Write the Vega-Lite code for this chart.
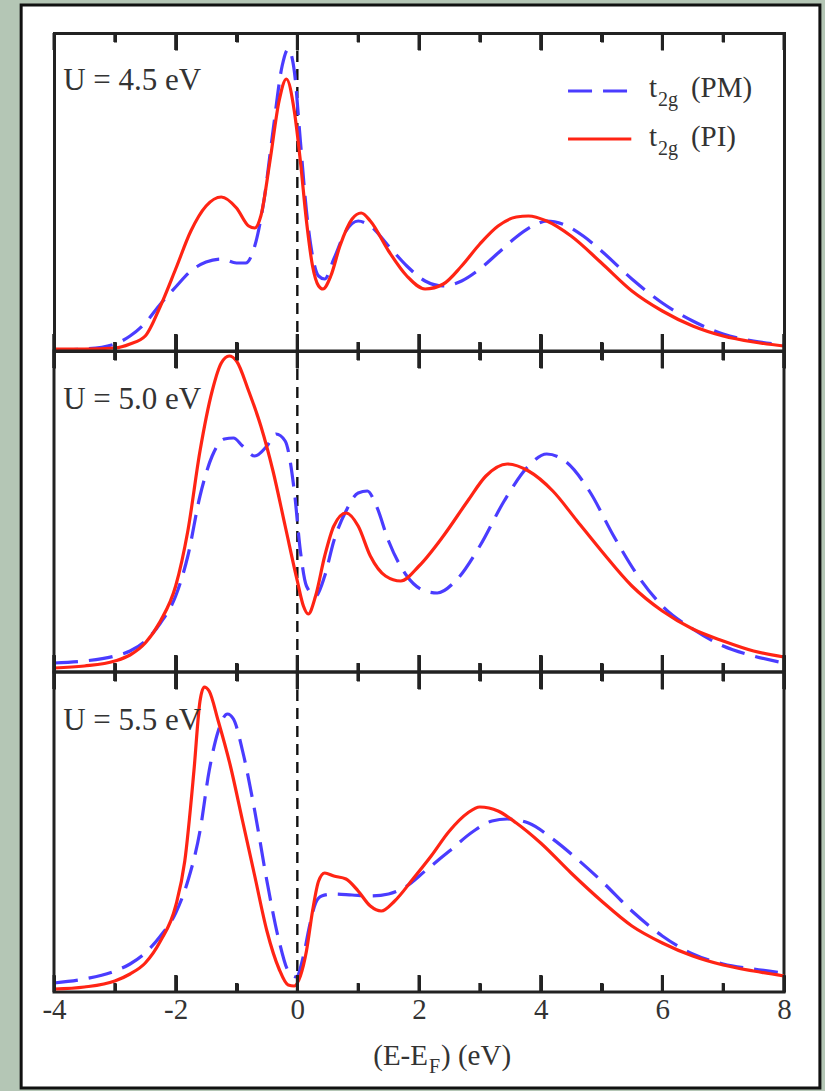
{
 "$schema": "https://vega.github.io/schema/vega-lite/v6.json",
 "background": "#b4c6b5",
 "padding": {"left": 18, "top": 2, "right": 4, "bottom": 0},
 "spacing": 0,
 "bounds": "flush",
 "config": {"view": {"stroke": "#222", "strokeWidth": 3}, "font": "Liberation Serif", "tick": {"thickness": 3}},
 "datasets": {
  "tk": [{"E":-4,"k":"M"},{"E":-3,"k":"m"},{"E":-2,"k":"M"},{"E":-1,"k":"m"},{"E":0,"k":"M"},{"E":1,"k":"m"},{"E":2,"k":"M"},{"E":3,"k":"m"},{"E":4,"k":"M"},{"E":5,"k":"m"},{"E":6,"k":"M"},{"E":7,"k":"m"},{"E":8,"k":"M"}],
  "dos": [
   {"U":"4.5","s":"PM","E":-4,"D":0.01},{"U":"4.5","s":"PM","E":-3.5,"D":0.02},{"U":"4.5","s":"PM","E":-3,"D":0.07},{"U":"4.5","s":"PM","E":-2.75,"D":0.15},{"U":"4.5","s":"PM","E":-2.5,"D":0.28},{"U":"4.5","s":"PM","E":-2.25,"D":0.47},{"U":"4.5","s":"PM","E":-2,"D":0.64},{"U":"4.5","s":"PM","E":-1.75,"D":0.8},{"U":"4.5","s":"PM","E":-1.5,"D":0.89},{"U":"4.5","s":"PM","E":-1.25,"D":0.92},{"U":"4.5","s":"PM","E":-1,"D":0.88},{"U":"4.5","s":"PM","E":-0.85,"D":0.88},{"U":"4.5","s":"PM","E":-0.7,"D":1.05},{"U":"4.5","s":"PM","E":-0.55,"D":1.5},{"U":"4.5","s":"PM","E":-0.4,"D":2.2},{"U":"4.5","s":"PM","E":-0.25,"D":2.85},{"U":"4.5","s":"PM","E":-0.15,"D":3.02},{"U":"4.5","s":"PM","E":-0.05,"D":2.8},{"U":"4.5","s":"PM","E":0.05,"D":2.1},{"U":"4.5","s":"PM","E":0.15,"D":1.4},{"U":"4.5","s":"PM","E":0.25,"D":0.95},{"U":"4.5","s":"PM","E":0.35,"D":0.75},{"U":"4.5","s":"PM","E":0.45,"D":0.72},{"U":"4.5","s":"PM","E":0.6,"D":0.92},{"U":"4.5","s":"PM","E":0.8,"D":1.2},{"U":"4.5","s":"PM","E":1,"D":1.3},{"U":"4.5","s":"PM","E":1.2,"D":1.25},{"U":"4.5","s":"PM","E":1.5,"D":1.05},{"U":"4.5","s":"PM","E":1.8,"D":0.85},{"U":"4.5","s":"PM","E":2.1,"D":0.7},{"U":"4.5","s":"PM","E":2.4,"D":0.65},{"U":"4.5","s":"PM","E":2.7,"D":0.7},{"U":"4.5","s":"PM","E":3,"D":0.82},{"U":"4.5","s":"PM","E":3.3,"D":0.98},{"U":"4.5","s":"PM","E":3.6,"D":1.14},{"U":"4.5","s":"PM","E":3.9,"D":1.26},{"U":"4.5","s":"PM","E":4.1,"D":1.3},{"U":"4.5","s":"PM","E":4.4,"D":1.26},{"U":"4.5","s":"PM","E":4.7,"D":1.15},{"U":"4.5","s":"PM","E":5,"D":1.0},{"U":"4.5","s":"PM","E":5.5,"D":0.72},{"U":"4.5","s":"PM","E":6,"D":0.48},{"U":"4.5","s":"PM","E":6.5,"D":0.3},{"U":"4.5","s":"PM","E":7,"D":0.17},{"U":"4.5","s":"PM","E":7.5,"D":0.1},{"U":"4.5","s":"PM","E":8,"D":0.06},

   {"U":"4.5","s":"PI","E":-4,"D":0.02},{"U":"4.5","s":"PI","E":-3.5,"D":0.02},{"U":"4.5","s":"PI","E":-3,"D":0.03},{"U":"4.5","s":"PI","E":-2.75,"D":0.07},{"U":"4.5","s":"PI","E":-2.5,"D":0.15},{"U":"4.5","s":"PI","E":-2.25,"D":0.45},{"U":"4.5","s":"PI","E":-2,"D":0.82},{"U":"4.5","s":"PI","E":-1.75,"D":1.2},{"U":"4.5","s":"PI","E":-1.5,"D":1.45},{"U":"4.5","s":"PI","E":-1.25,"D":1.54},{"U":"4.5","s":"PI","E":-1,"D":1.43},{"U":"4.5","s":"PI","E":-0.8,"D":1.25},{"U":"4.5","s":"PI","E":-0.7,"D":1.23},{"U":"4.5","s":"PI","E":-0.6,"D":1.35},{"U":"4.5","s":"PI","E":-0.45,"D":1.9},{"U":"4.5","s":"PI","E":-0.3,"D":2.5},{"U":"4.5","s":"PI","E":-0.18,"D":2.72},{"U":"4.5","s":"PI","E":-0.05,"D":2.4},{"U":"4.5","s":"PI","E":0.05,"D":1.9},{"U":"4.5","s":"PI","E":0.15,"D":1.3},{"U":"4.5","s":"PI","E":0.25,"D":0.85},{"U":"4.5","s":"PI","E":0.35,"D":0.65},{"U":"4.5","s":"PI","E":0.42,"D":0.62},{"U":"4.5","s":"PI","E":0.55,"D":0.75},{"U":"4.5","s":"PI","E":0.7,"D":1.05},{"U":"4.5","s":"PI","E":0.9,"D":1.32},{"U":"4.5","s":"PI","E":1.05,"D":1.38},{"U":"4.5","s":"PI","E":1.2,"D":1.3},{"U":"4.5","s":"PI","E":1.5,"D":1.0},{"U":"4.5","s":"PI","E":1.8,"D":0.75},{"U":"4.5","s":"PI","E":2.1,"D":0.62},{"U":"4.5","s":"PI","E":2.4,"D":0.67},{"U":"4.5","s":"PI","E":2.7,"D":0.85},{"U":"4.5","s":"PI","E":3,"D":1.07},{"U":"4.5","s":"PI","E":3.3,"D":1.25},{"U":"4.5","s":"PI","E":3.6,"D":1.34},{"U":"4.5","s":"PI","E":3.8,"D":1.35},{"U":"4.5","s":"PI","E":4.1,"D":1.3},{"U":"4.5","s":"PI","E":4.5,"D":1.15},{"U":"4.5","s":"PI","E":5,"D":0.88},{"U":"4.5","s":"PI","E":5.5,"D":0.6},{"U":"4.5","s":"PI","E":6,"D":0.4},{"U":"4.5","s":"PI","E":6.5,"D":0.25},{"U":"4.5","s":"PI","E":7,"D":0.15},{"U":"4.5","s":"PI","E":7.5,"D":0.09},{"U":"4.5","s":"PI","E":8,"D":0.05},

   {"U":"5.0","s":"PM","E":-4,"D":0.09},{"U":"5.0","s":"PM","E":-3.5,"D":0.11},{"U":"5.0","s":"PM","E":-3,"D":0.16},{"U":"5.0","s":"PM","E":-2.75,"D":0.21},{"U":"5.0","s":"PM","E":-2.5,"D":0.31},{"U":"5.0","s":"PM","E":-2.25,"D":0.49},{"U":"5.0","s":"PM","E":-2,"D":0.76},{"U":"5.0","s":"PM","E":-1.8,"D":1.16},{"U":"5.0","s":"PM","E":-1.6,"D":1.76},{"U":"5.0","s":"PM","E":-1.4,"D":2.16},{"U":"5.0","s":"PM","E":-1.2,"D":2.33},{"U":"5.0","s":"PM","E":-1.05,"D":2.34},{"U":"5.0","s":"PM","E":-0.9,"D":2.26},{"U":"5.0","s":"PM","E":-0.7,"D":2.16},{"U":"5.0","s":"PM","E":-0.5,"D":2.26},{"U":"5.0","s":"PM","E":-0.35,"D":2.38},{"U":"5.0","s":"PM","E":-0.2,"D":2.31},{"U":"5.0","s":"PM","E":-0.05,"D":1.81},{"U":"5.0","s":"PM","E":0.05,"D":1.21},{"U":"5.0","s":"PM","E":0.15,"D":0.86},{"U":"5.0","s":"PM","E":0.3,"D":0.76},{"U":"5.0","s":"PM","E":0.45,"D":0.96},{"U":"5.0","s":"PM","E":0.6,"D":1.31},{"U":"5.0","s":"PM","E":0.8,"D":1.61},{"U":"5.0","s":"PM","E":1,"D":1.79},{"U":"5.0","s":"PM","E":1.15,"D":1.81},{"U":"5.0","s":"PM","E":1.3,"D":1.66},{"U":"5.0","s":"PM","E":1.5,"D":1.31},{"U":"5.0","s":"PM","E":1.8,"D":0.96},{"U":"5.0","s":"PM","E":2.1,"D":0.81},{"U":"5.0","s":"PM","E":2.3,"D":0.79},{"U":"5.0","s":"PM","E":2.6,"D":0.91},{"U":"5.0","s":"PM","E":3,"D":1.26},{"U":"5.0","s":"PM","E":3.4,"D":1.71},{"U":"5.0","s":"PM","E":3.8,"D":2.06},{"U":"5.0","s":"PM","E":4.1,"D":2.18},{"U":"5.0","s":"PM","E":4.4,"D":2.11},{"U":"5.0","s":"PM","E":4.8,"D":1.81},{"U":"5.0","s":"PM","E":5.2,"D":1.36},{"U":"5.0","s":"PM","E":5.6,"D":0.96},{"U":"5.0","s":"PM","E":6,"D":0.66},{"U":"5.0","s":"PM","E":6.5,"D":0.43},{"U":"5.0","s":"PM","E":7,"D":0.26},{"U":"5.0","s":"PM","E":7.5,"D":0.16},{"U":"5.0","s":"PM","E":8,"D":0.09},

   {"U":"5.0","s":"PI","E":-4,"D":0.04},{"U":"5.0","s":"PI","E":-3.5,"D":0.06},{"U":"5.0","s":"PI","E":-3,"D":0.11},{"U":"5.0","s":"PI","E":-2.75,"D":0.17},{"U":"5.0","s":"PI","E":-2.5,"D":0.29},{"U":"5.0","s":"PI","E":-2.25,"D":0.51},{"U":"5.0","s":"PI","E":-2,"D":0.86},{"U":"5.0","s":"PI","E":-1.8,"D":1.41},{"U":"5.0","s":"PI","E":-1.6,"D":2.21},{"U":"5.0","s":"PI","E":-1.4,"D":2.81},{"U":"5.0","s":"PI","E":-1.25,"D":3.09},{"U":"5.0","s":"PI","E":-1.12,"D":3.16},{"U":"5.0","s":"PI","E":-1,"D":3.11},{"U":"5.0","s":"PI","E":-0.8,"D":2.81},{"U":"5.0","s":"PI","E":-0.6,"D":2.46},{"U":"5.0","s":"PI","E":-0.4,"D":2.01},{"U":"5.0","s":"PI","E":-0.2,"D":1.46},{"U":"5.0","s":"PI","E":0,"D":0.91},{"U":"5.0","s":"PI","E":0.1,"D":0.66},{"U":"5.0","s":"PI","E":0.18,"D":0.58},{"U":"5.0","s":"PI","E":0.3,"D":0.76},{"U":"5.0","s":"PI","E":0.45,"D":1.16},{"U":"5.0","s":"PI","E":0.6,"D":1.46},{"U":"5.0","s":"PI","E":0.8,"D":1.59},{"U":"5.0","s":"PI","E":1,"D":1.46},{"U":"5.0","s":"PI","E":1.2,"D":1.16},{"U":"5.0","s":"PI","E":1.45,"D":0.96},{"U":"5.0","s":"PI","E":1.7,"D":0.91},{"U":"5.0","s":"PI","E":2,"D":1.06},{"U":"5.0","s":"PI","E":2.4,"D":1.36},{"U":"5.0","s":"PI","E":2.8,"D":1.71},{"U":"5.0","s":"PI","E":3.1,"D":1.96},{"U":"5.0","s":"PI","E":3.45,"D":2.08},{"U":"5.0","s":"PI","E":3.8,"D":2.01},{"U":"5.0","s":"PI","E":4.2,"D":1.81},{"U":"5.0","s":"PI","E":4.6,"D":1.51},{"U":"5.0","s":"PI","E":5,"D":1.21},{"U":"5.0","s":"PI","E":5.5,"D":0.86},{"U":"5.0","s":"PI","E":6,"D":0.61},{"U":"5.0","s":"PI","E":6.5,"D":0.43},{"U":"5.0","s":"PI","E":7,"D":0.31},{"U":"5.0","s":"PI","E":7.5,"D":0.21},{"U":"5.0","s":"PI","E":8,"D":0.15},

   {"U":"5.5","s":"PM","E":-4,"D":0.09},{"U":"5.5","s":"PM","E":-3.5,"D":0.13},{"U":"5.5","s":"PM","E":-3,"D":0.21},{"U":"5.5","s":"PM","E":-2.75,"D":0.28},{"U":"5.5","s":"PM","E":-2.5,"D":0.39},{"U":"5.5","s":"PM","E":-2.25,"D":0.56},{"U":"5.5","s":"PM","E":-2,"D":0.79},{"U":"5.5","s":"PM","E":-1.8,"D":1.11},{"U":"5.5","s":"PM","E":-1.6,"D":1.61},{"U":"5.5","s":"PM","E":-1.45,"D":2.21},{"U":"5.5","s":"PM","E":-1.3,"D":2.61},{"U":"5.5","s":"PM","E":-1.15,"D":2.78},{"U":"5.5","s":"PM","E":-1.05,"D":2.73},{"U":"5.5","s":"PM","E":-0.9,"D":2.41},{"U":"5.5","s":"PM","E":-0.7,"D":1.81},{"U":"5.5","s":"PM","E":-0.5,"D":1.11},{"U":"5.5","s":"PM","E":-0.3,"D":0.51},{"U":"5.5","s":"PM","E":-0.15,"D":0.21},{"U":"5.5","s":"PM","E":-0.02,"D":0.15},{"U":"5.5","s":"PM","E":0.1,"D":0.36},{"U":"5.5","s":"PM","E":0.2,"D":0.66},{"U":"5.5","s":"PM","E":0.3,"D":0.89},{"U":"5.5","s":"PM","E":0.4,"D":0.96},{"U":"5.5","s":"PM","E":0.6,"D":0.98},{"U":"5.5","s":"PM","E":0.9,"D":0.97},{"U":"5.5","s":"PM","E":1.2,"D":0.96},{"U":"5.5","s":"PM","E":1.5,"D":0.98},{"U":"5.5","s":"PM","E":1.8,"D":1.06},{"U":"5.5","s":"PM","E":2.1,"D":1.21},{"U":"5.5","s":"PM","E":2.5,"D":1.41},{"U":"5.5","s":"PM","E":2.9,"D":1.61},{"U":"5.5","s":"PM","E":3.2,"D":1.71},{"U":"5.5","s":"PM","E":3.45,"D":1.73},{"U":"5.5","s":"PM","E":3.8,"D":1.69},{"U":"5.5","s":"PM","E":4.2,"D":1.53},{"U":"5.5","s":"PM","E":4.6,"D":1.33},{"U":"5.5","s":"PM","E":5,"D":1.11},{"U":"5.5","s":"PM","E":5.5,"D":0.81},{"U":"5.5","s":"PM","E":6,"D":0.56},{"U":"5.5","s":"PM","E":6.5,"D":0.38},{"U":"5.5","s":"PM","E":7,"D":0.28},{"U":"5.5","s":"PM","E":7.5,"D":0.23},{"U":"5.5","s":"PM","E":8,"D":0.19},

   {"U":"5.5","s":"PI","E":-4,"D":0.03},{"U":"5.5","s":"PI","E":-3.5,"D":0.05},{"U":"5.5","s":"PI","E":-3,"D":0.11},{"U":"5.5","s":"PI","E":-2.75,"D":0.18},{"U":"5.5","s":"PI","E":-2.5,"D":0.29},{"U":"5.5","s":"PI","E":-2.25,"D":0.51},{"U":"5.5","s":"PI","E":-2,"D":0.86},{"U":"5.5","s":"PI","E":-1.85,"D":1.31},{"U":"5.5","s":"PI","E":-1.7,"D":2.21},{"U":"5.5","s":"PI","E":-1.6,"D":2.91},{"U":"5.5","s":"PI","E":-1.53,"D":3.05},{"U":"5.5","s":"PI","E":-1.45,"D":3.01},{"U":"5.5","s":"PI","E":-1.3,"D":2.71},{"U":"5.5","s":"PI","E":-1.1,"D":2.26},{"U":"5.5","s":"PI","E":-0.9,"D":1.71},{"U":"5.5","s":"PI","E":-0.7,"D":1.16},{"U":"5.5","s":"PI","E":-0.5,"D":0.61},{"U":"5.5","s":"PI","E":-0.3,"D":0.23},{"U":"5.5","s":"PI","E":-0.15,"D":0.07},{"U":"5.5","s":"PI","E":-0.05,"D":0.06},{"U":"5.5","s":"PI","E":0.05,"D":0.16},{"U":"5.5","s":"PI","E":0.15,"D":0.41},{"U":"5.5","s":"PI","E":0.25,"D":0.81},{"U":"5.5","s":"PI","E":0.35,"D":1.11},{"U":"5.5","s":"PI","E":0.45,"D":1.19},{"U":"5.5","s":"PI","E":0.6,"D":1.16},{"U":"5.5","s":"PI","E":0.8,"D":1.13},{"U":"5.5","s":"PI","E":1,"D":1.01},{"U":"5.5","s":"PI","E":1.2,"D":0.86},{"U":"5.5","s":"PI","E":1.38,"D":0.81},{"U":"5.5","s":"PI","E":1.6,"D":0.91},{"U":"5.5","s":"PI","E":1.9,"D":1.13},{"U":"5.5","s":"PI","E":2.2,"D":1.36},{"U":"5.5","s":"PI","E":2.5,"D":1.61},{"U":"5.5","s":"PI","E":2.8,"D":1.79},{"U":"5.5","s":"PI","E":3,"D":1.85},{"U":"5.5","s":"PI","E":3.3,"D":1.81},{"U":"5.5","s":"PI","E":3.6,"D":1.69},{"U":"5.5","s":"PI","E":4,"D":1.49},{"U":"5.5","s":"PI","E":4.5,"D":1.19},{"U":"5.5","s":"PI","E":5,"D":0.91},{"U":"5.5","s":"PI","E":5.5,"D":0.66},{"U":"5.5","s":"PI","E":6,"D":0.49},{"U":"5.5","s":"PI","E":6.5,"D":0.36},{"U":"5.5","s":"PI","E":7,"D":0.27},{"U":"5.5","s":"PI","E":7.5,"D":0.21},{"U":"5.5","s":"PI","E":8,"D":0.16}
  ]
 },
 "vconcat": [
  {
   "width": 730, "height": 318,
   "data": {"name": "dos"},
   "layer": [
    {"data": {"values": [{}]}, "mark": {"type": "rect", "fill": "white", "stroke": "#111", "strokeWidth": 3},
     "encoding": {"x": {"datum": -4.54, "type": "quantitative", "scale": {"domain": [-4, 8], "nice": false, "zero": false},
                  "axis": {"orient": "bottom", "domain": true, "domainColor": "#222", "domainWidth": 3, "domainCap": "square", "ticks": false, "labels": false, "grid": false, "title": null, "offset": 0, "zindex": 1}}, "x2": {"datum": 8.59},
                  "y": {"datum": 3.46, "type": "quantitative", "scale": {"domain": [0, 3.18], "nice": false},
                  "axis": {"orient": "left", "domain": true, "domainColor": "#222", "domainWidth": 3, "domainCap": "square", "ticks": false, "labels": false, "grid": false, "title": null, "offset": 0, "zindex": 1}}, "y2": {"datum": -7.37}}},
    {"data": {"values": [{}]}, "mark": {"type": "rule", "stroke": "#111", "strokeWidth": 2.4, "strokeDash": [11, 7]},
     "encoding": {"x": {"datum": 0, "type": "quantitative", "scale": {"domain": [-4, 8], "nice": false, "zero": false},
                  "axis": {"orient": "bottom", "values": [-3, -1, 1, 3, 5, 7], "offset": -9, "ticks": true, "tickSize": 9, "tickWidth": 3, "tickColor": "#222", "domain": false, "grid": false, "labels": false, "title": null, "zindex": 1}}}},
    {"transform": [{"filter": "datum.U == '4.5' && datum.s == 'PM'"}],
     "mark": {"type": "line", "stroke": "#4a3cff", "strokeWidth": 3.2, "strokeDash": [24, 11], "interpolate": "monotone"},
     "encoding": {"x": {"field": "E", "type": "quantitative", "scale": {"domain": [-4, 8], "nice": false, "zero": false},
                  "axis": {"orient": "bottom", "values": [-4, -2, 0, 2, 4, 6, 8], "offset": -17, "ticks": true, "tickSize": 17, "tickWidth": 3, "tickColor": "#222", "domain": false, "grid": false, "labels": false, "title": null, "zindex": 1}},
                  "y": {"field": "D", "type": "quantitative", "scale": {"domain": [0, 3.18], "nice": false},
                  "axis": {"orient": "right", "domain": true, "domainColor": "#222", "domainWidth": 3, "domainCap": "square", "ticks": false, "labels": false, "grid": false, "title": null, "offset": 0, "zindex": 1}}}},
    {"transform": [{"filter": "datum.U == '4.5' && datum.s == 'PI'"}],
     "mark": {"type": "line", "stroke": "#ff2414", "strokeWidth": 3.2, "interpolate": "monotone"},
     "encoding": {"x": {"field": "E", "type": "quantitative", "scale": {"domain": [-4, 8], "nice": false, "zero": false},
                  "axis": {"orient": "top", "values": [-4, -2, 0, 2, 4, 6, 8], "offset": -17, "ticks": true, "tickSize": 17, "tickWidth": 3, "tickColor": "#222", "domain": false, "grid": false, "labels": false, "title": null, "zindex": 1}},
                  "y": {"field": "D", "type": "quantitative", "scale": {"domain": [0, 3.18], "nice": false}, "axis": null}}},
    {"data": {"name": "tk"}, "transform": [{"filter": "datum.k == 'M'"}], "mark": {"type": "tick", "orient": "vertical", "size": 34, "color": "#222", "opacity": 1},
     "encoding": {"x": {"field": "E", "type": "quantitative", "scale": {"domain": [-4, 8], "nice": false, "zero": false}, "axis": null},
                  "y": {"datum": 0, "type": "quantitative", "scale": {"domain": [0, 3.18], "nice": false}, "axis": null}}},
    {"data": {"name": "tk"}, "transform": [{"filter": "datum.k == 'm'"}], "mark": {"type": "tick", "orient": "vertical", "size": 18, "color": "#222", "opacity": 1},
     "encoding": {"x": {"field": "E", "type": "quantitative", "scale": {"domain": [-4, 8], "nice": false, "zero": false}, "axis": null},
                  "y": {"datum": 0, "type": "quantitative", "scale": {"domain": [0, 3.18], "nice": false}, "axis": null}}},
    {"data": {"name": "tk"}, "transform": [{"filter": "datum.k == 'M'"}], "mark": {"type": "tick", "orient": "vertical", "size": 17, "color": "#222", "opacity": 1},
     "encoding": {"x": {"field": "E", "type": "quantitative", "scale": {"domain": [-4, 8], "nice": false, "zero": false}, "axis": null},
                  "y": {"datum": 3.095, "type": "quantitative", "scale": {"domain": [0, 3.18], "nice": false}, "axis": null}}},
    {"data": {"name": "tk"}, "transform": [{"filter": "datum.k == 'm'"}], "mark": {"type": "tick", "orient": "vertical", "size": 9, "color": "#222", "opacity": 1},
     "encoding": {"x": {"field": "E", "type": "quantitative", "scale": {"domain": [-4, 8], "nice": false, "zero": false}, "axis": null},
                  "y": {"datum": 3.135, "type": "quantitative", "scale": {"domain": [0, 3.18], "nice": false}, "axis": null}}},
    {"data": {"values": [{"t": "U = 4.5 eV"}]}, "mark": {"type": "text", "align": "left", "baseline": "alphabetic", "fontSize": 31, "fill": "#333", "font": "Liberation Serif"},
     "encoding": {"x": {"datum": -3.85, "type": "quantitative", "scale": {"domain": [-4, 8], "nice": false, "zero": false},
                  "axis": {"orient": "top", "values": [-3, -1, 1, 3, 5, 7], "offset": -9, "ticks": true, "tickSize": 9, "tickWidth": 3, "tickColor": "#222", "domain": false, "grid": false, "labels": false, "title": null, "zindex": 1}},
                  "y": {"datum": 2.61, "type": "quantitative", "scale": {"domain": [0, 3.18], "nice": false}, "axis": null},
                  "text": {"field": "t", "type": "nominal"}}},
    {"data": {"values": [{}]}, "mark": {"type": "rule", "stroke": "#4a3cff", "strokeWidth": 3.2, "strokeDash": [24, 11]},
     "encoding": {"x": {"datum": 4.45, "type": "quantitative", "scale": {"domain": [-4, 8], "nice": false, "zero": false},
                  "axis": {"orient": "top", "domain": true, "domainColor": "#222", "domainWidth": 3, "domainCap": "square", "ticks": false, "labels": false, "grid": false, "title": null, "offset": 0, "zindex": 1}}, "x2": {"datum": 5.49},
                  "y": {"datum": 2.6, "type": "quantitative", "scale": {"domain": [0, 3.18], "nice": false}, "axis": null}}},
    {"data": {"values": [{}]}, "mark": {"type": "rule", "stroke": "#ff2414", "strokeWidth": 3.2},
     "encoding": {"x": {"datum": 4.45, "type": "quantitative", "scale": {"domain": [-4, 8], "nice": false, "zero": false}, "axis": null}, "x2": {"datum": 5.49},
                  "y": {"datum": 2.12, "type": "quantitative", "scale": {"domain": [0, 3.18], "nice": false}, "axis": null}}},
    {"data": {"values": [{"t": "t"}]}, "mark": {"type": "text", "align": "left", "baseline": "alphabetic", "fontSize": 29, "fill": "#333", "font": "Liberation Serif"},
     "encoding": {"x": {"datum": 5.78, "type": "quantitative", "scale": {"domain": [-4, 8], "nice": false, "zero": false}, "axis": null},
                  "y": {"datum": 2.54, "type": "quantitative", "scale": {"domain": [0, 3.18], "nice": false}, "axis": null}, "text": {"field": "t", "type": "nominal"}}},
    {"data": {"values": [{"t": "2g"}]}, "mark": {"type": "text", "align": "left", "baseline": "alphabetic", "fontSize": 20, "fill": "#333", "font": "Liberation Serif"},
     "encoding": {"x": {"datum": 5.93, "type": "quantitative", "scale": {"domain": [-4, 8], "nice": false, "zero": false}, "axis": null},
                  "y": {"datum": 2.45, "type": "quantitative", "scale": {"domain": [0, 3.18], "nice": false}, "axis": null}, "text": {"field": "t", "type": "nominal"}}},
    {"data": {"values": [{"t": "(PM)"}]}, "mark": {"type": "text", "align": "left", "baseline": "alphabetic", "fontSize": 29, "fill": "#333", "font": "Liberation Serif"},
     "encoding": {"x": {"datum": 6.47, "type": "quantitative", "scale": {"domain": [-4, 8], "nice": false, "zero": false}, "axis": null},
                  "y": {"datum": 2.54, "type": "quantitative", "scale": {"domain": [0, 3.18], "nice": false}, "axis": null}, "text": {"field": "t", "type": "nominal"}}},
    {"data": {"values": [{"t": "t"}]}, "mark": {"type": "text", "align": "left", "baseline": "alphabetic", "fontSize": 29, "fill": "#333", "font": "Liberation Serif"},
     "encoding": {"x": {"datum": 5.78, "type": "quantitative", "scale": {"domain": [-4, 8], "nice": false, "zero": false}, "axis": null},
                  "y": {"datum": 2.05, "type": "quantitative", "scale": {"domain": [0, 3.18], "nice": false}, "axis": null}, "text": {"field": "t", "type": "nominal"}}},
    {"data": {"values": [{"t": "2g"}]}, "mark": {"type": "text", "align": "left", "baseline": "alphabetic", "fontSize": 20, "fill": "#333", "font": "Liberation Serif"},
     "encoding": {"x": {"datum": 5.93, "type": "quantitative", "scale": {"domain": [-4, 8], "nice": false, "zero": false}, "axis": null},
                  "y": {"datum": 1.96, "type": "quantitative", "scale": {"domain": [0, 3.18], "nice": false}, "axis": null}, "text": {"field": "t", "type": "nominal"}}},
    {"data": {"values": [{"t": "(PI)"}]}, "mark": {"type": "text", "align": "left", "baseline": "alphabetic", "fontSize": 29, "fill": "#333", "font": "Liberation Serif"},
     "encoding": {"x": {"datum": 6.47, "type": "quantitative", "scale": {"domain": [-4, 8], "nice": false, "zero": false}, "axis": null},
                  "y": {"datum": 2.05, "type": "quantitative", "scale": {"domain": [0, 3.18], "nice": false}, "axis": null}, "text": {"field": "t", "type": "nominal"}}}
   ],
   "resolve": {"axis": {"x": "independent", "y": "independent"}}
  },
  {
   "width": 730, "height": 321,
   "data": {"name": "dos"},
   "layer": [
    {"data": {"values": [{}]}, "mark": {"type": "rule", "stroke": "#111", "strokeWidth": 2.4, "strokeDash": [11, 7]},
     "encoding": {"x": {"datum": 0, "type": "quantitative", "scale": {"domain": [-4, 8], "nice": false, "zero": false},
                  "axis": {"orient": "bottom", "values": [-3, -1, 1, 3, 5, 7], "offset": -9, "ticks": true, "tickSize": 9, "tickWidth": 3, "tickColor": "#222", "domain": false, "grid": false, "labels": false, "title": null, "zindex": 1}}}},
    {"transform": [{"filter": "datum.U == '5.0' && datum.s == 'PM'"}],
     "mark": {"type": "line", "stroke": "#4a3cff", "strokeWidth": 3.2, "strokeDash": [24, 11], "interpolate": "monotone"},
     "encoding": {"x": {"field": "E", "type": "quantitative", "scale": {"domain": [-4, 8], "nice": false, "zero": false},
                  "axis": {"orient": "bottom", "values": [-4, -2, 0, 2, 4, 6, 8], "offset": -17, "ticks": true, "tickSize": 17, "tickWidth": 3, "tickColor": "#222", "domain": false, "grid": false, "labels": false, "title": null, "zindex": 1}},
                  "y": {"field": "D", "type": "quantitative", "scale": {"domain": [0, 3.21], "nice": false}, "axis": null}}},
    {"transform": [{"filter": "datum.U == '5.0' && datum.s == 'PI'"}],
     "mark": {"type": "line", "stroke": "#ff2414", "strokeWidth": 3.2, "interpolate": "monotone"},
     "encoding": {"x": {"field": "E", "type": "quantitative", "scale": {"domain": [-4, 8], "nice": false, "zero": false},
                  "axis": {"orient": "top", "values": [-4, -2, 0, 2, 4, 6, 8], "offset": -17, "ticks": true, "tickSize": 17, "tickWidth": 3, "tickColor": "#222", "domain": false, "grid": false, "labels": false, "title": null, "zindex": 1}},
                  "y": {"field": "D", "type": "quantitative", "scale": {"domain": [0, 3.21], "nice": false}, "axis": null}}},
    {"data": {"name": "tk"}, "transform": [{"filter": "datum.k == 'M'"}], "mark": {"type": "tick", "orient": "vertical", "size": 34, "color": "#222", "opacity": 1},
     "encoding": {"x": {"field": "E", "type": "quantitative", "scale": {"domain": [-4, 8], "nice": false, "zero": false}, "axis": null},
                  "y": {"datum": 0, "type": "quantitative", "scale": {"domain": [0, 3.21], "nice": false}, "axis": null}}},
    {"data": {"name": "tk"}, "transform": [{"filter": "datum.k == 'm'"}], "mark": {"type": "tick", "orient": "vertical", "size": 18, "color": "#222", "opacity": 1},
     "encoding": {"x": {"field": "E", "type": "quantitative", "scale": {"domain": [-4, 8], "nice": false, "zero": false}, "axis": null},
                  "y": {"datum": 0, "type": "quantitative", "scale": {"domain": [0, 3.21], "nice": false}, "axis": null}}},
    {"data": {"name": "tk"}, "transform": [{"filter": "datum.k == 'M'"}], "mark": {"type": "tick", "orient": "vertical", "size": 34, "color": "#222", "opacity": 1},
     "encoding": {"x": {"field": "E", "type": "quantitative", "scale": {"domain": [-4, 8], "nice": false, "zero": false}, "axis": null},
                  "y": {"datum": 3.21, "type": "quantitative", "scale": {"domain": [0, 3.21], "nice": false}, "axis": null}}},
    {"data": {"name": "tk"}, "transform": [{"filter": "datum.k == 'm'"}], "mark": {"type": "tick", "orient": "vertical", "size": 18, "color": "#222", "opacity": 1},
     "encoding": {"x": {"field": "E", "type": "quantitative", "scale": {"domain": [-4, 8], "nice": false, "zero": false}, "axis": null},
                  "y": {"datum": 3.21, "type": "quantitative", "scale": {"domain": [0, 3.21], "nice": false}, "axis": null}}},
    {"data": {"values": [{"t": "U = 5.0 eV"}]}, "mark": {"type": "text", "align": "left", "baseline": "alphabetic", "fontSize": 31, "fill": "#333", "font": "Liberation Serif"},
     "encoding": {"x": {"datum": -3.85, "type": "quantitative", "scale": {"domain": [-4, 8], "nice": false, "zero": false},
                  "axis": {"orient": "top", "values": [-3, -1, 1, 3, 5, 7], "offset": -9, "ticks": true, "tickSize": 9, "tickWidth": 3, "tickColor": "#222", "domain": false, "grid": false, "labels": false, "title": null, "zindex": 1}},
                  "y": {"datum": 2.63, "type": "quantitative", "scale": {"domain": [0, 3.21], "nice": false}, "axis": null},
                  "text": {"field": "t", "type": "nominal"}}}
   ],
   "resolve": {"axis": {"x": "independent", "y": "independent"}}
  },
  {
   "width": 730, "height": 320,
   "data": {"name": "dos"},
   "layer": [
    {"data": {"values": [{}]}, "mark": {"type": "rule", "stroke": "#111", "strokeWidth": 2.4, "strokeDash": [11, 7]},
     "encoding": {"x": {"datum": 0, "type": "quantitative", "scale": {"domain": [-4, 8], "nice": false, "zero": false},
                  "axis": {"orient": "bottom", "values": [-3, -1, 1, 3, 5, 7], "offset": -9, "ticks": true, "tickSize": 9, "tickWidth": 3, "tickColor": "#222", "domain": false, "grid": false, "labels": false, "title": null, "zindex": 1}}}},
    {"transform": [{"filter": "datum.U == '5.5' && datum.s == 'PM'"}],
     "mark": {"type": "line", "stroke": "#4a3cff", "strokeWidth": 3.2, "strokeDash": [24, 11], "interpolate": "monotone"},
     "encoding": {"x": {"field": "E", "type": "quantitative", "scale": {"domain": [-4, 8], "nice": false, "zero": false},
                  "axis": {"orient": "bottom", "values": [-4, -2, 0, 2, 4, 6, 8], "offset": -17, "ticks": true, "tickSize": 17, "tickWidth": 3, "tickColor": "#222", "domain": false, "grid": false, "labels": true, "labelFont": "Liberation Serif", "labelFontSize": 29, "labelColor": "#333", "labelPadding": 3, "labelFlush": false, "labelBaseline": "top", "labelExpr": "'' + datum.value", "title": null, "zindex": 1}},
                  "y": {"field": "D", "type": "quantitative", "scale": {"domain": [0, 3.2], "nice": false}, "axis": null}}},
    {"transform": [{"filter": "datum.U == '5.5' && datum.s == 'PI'"}],
     "mark": {"type": "line", "stroke": "#ff2414", "strokeWidth": 3.2, "interpolate": "monotone"},
     "encoding": {"x": {"field": "E", "type": "quantitative", "scale": {"domain": [-4, 8], "nice": false, "zero": false},
                  "axis": {"orient": "top", "values": [-4, -2, 0, 2, 4, 6, 8], "offset": -17, "ticks": true, "tickSize": 17, "tickWidth": 3, "tickColor": "#222", "domain": false, "grid": false, "labels": false, "title": null, "zindex": 1}},
                  "y": {"field": "D", "type": "quantitative", "scale": {"domain": [0, 3.2], "nice": false}, "axis": null}}},
    {"data": {"name": "tk"}, "transform": [{"filter": "datum.k == 'M'"}], "mark": {"type": "tick", "orient": "vertical", "size": 17, "color": "#222", "opacity": 1},
     "encoding": {"x": {"field": "E", "type": "quantitative", "scale": {"domain": [-4, 8], "nice": false, "zero": false}, "axis": null},
                  "y": {"datum": 0.085, "type": "quantitative", "scale": {"domain": [0, 3.2], "nice": false}, "axis": null}}},
    {"data": {"name": "tk"}, "transform": [{"filter": "datum.k == 'm'"}], "mark": {"type": "tick", "orient": "vertical", "size": 9, "color": "#222", "opacity": 1},
     "encoding": {"x": {"field": "E", "type": "quantitative", "scale": {"domain": [-4, 8], "nice": false, "zero": false}, "axis": null},
                  "y": {"datum": 0.045, "type": "quantitative", "scale": {"domain": [0, 3.2], "nice": false}, "axis": null}}},
    {"data": {"name": "tk"}, "transform": [{"filter": "datum.k == 'M'"}], "mark": {"type": "tick", "orient": "vertical", "size": 34, "color": "#222", "opacity": 1},
     "encoding": {"x": {"field": "E", "type": "quantitative", "scale": {"domain": [-4, 8], "nice": false, "zero": false}, "axis": null},
                  "y": {"datum": 3.2, "type": "quantitative", "scale": {"domain": [0, 3.2], "nice": false}, "axis": null}}},
    {"data": {"name": "tk"}, "transform": [{"filter": "datum.k == 'm'"}], "mark": {"type": "tick", "orient": "vertical", "size": 18, "color": "#222", "opacity": 1},
     "encoding": {"x": {"field": "E", "type": "quantitative", "scale": {"domain": [-4, 8], "nice": false, "zero": false}, "axis": null},
                  "y": {"datum": 3.2, "type": "quantitative", "scale": {"domain": [0, 3.2], "nice": false}, "axis": null}}},
    {"data": {"values": [{"t": "U = 5.5 eV"}]}, "mark": {"type": "text", "align": "left", "baseline": "alphabetic", "fontSize": 31, "fill": "#333", "font": "Liberation Serif"},
     "encoding": {"x": {"datum": -3.85, "type": "quantitative", "scale": {"domain": [-4, 8], "nice": false, "zero": false},
                  "axis": {"orient": "top", "values": [-3, -1, 1, 3, 5, 7], "offset": -9, "ticks": true, "tickSize": 9, "tickWidth": 3, "tickColor": "#222", "domain": false, "grid": false, "labels": false, "title": null, "zindex": 1}},
                  "y": {"datum": 2.62, "type": "quantitative", "scale": {"domain": [0, 3.2], "nice": false}, "axis": null},
                  "text": {"field": "t", "type": "nominal"}}},
    {"data": {"values": [{"t": "(E-E"}]}, "mark": {"type": "text", "align": "right", "baseline": "alphabetic", "fontSize": 29, "fill": "#333", "font": "Liberation Serif"},
     "encoding": {"x": {"datum": 2.148, "type": "quantitative", "scale": {"domain": [-4, 8], "nice": false, "zero": false}, "axis": null},
                  "y": {"datum": -0.73, "type": "quantitative", "scale": {"domain": [0, 3.2], "nice": false}, "axis": null}, "text": {"field": "t", "type": "nominal"}}},
    {"data": {"values": [{"t": "F"}]}, "mark": {"type": "text", "align": "left", "baseline": "alphabetic", "fontSize": 20, "fill": "#333", "font": "Liberation Serif"},
     "encoding": {"x": {"datum": 2.165, "type": "quantitative", "scale": {"domain": [-4, 8], "nice": false, "zero": false}, "axis": null},
                  "y": {"datum": -0.81, "type": "quantitative", "scale": {"domain": [0, 3.2], "nice": false}, "axis": null}, "text": {"field": "t", "type": "nominal"}}},
    {"data": {"values": [{"t": ") (eV)"}]}, "mark": {"type": "text", "align": "left", "baseline": "alphabetic", "fontSize": 29, "fill": "#333", "font": "Liberation Serif"},
     "encoding": {"x": {"datum": 2.362, "type": "quantitative", "scale": {"domain": [-4, 8], "nice": false, "zero": false}, "axis": null},
                  "y": {"datum": -0.73, "type": "quantitative", "scale": {"domain": [0, 3.2], "nice": false}, "axis": null}, "text": {"field": "t", "type": "nominal"}}}
   ],
   "resolve": {"axis": {"x": "independent", "y": "independent"}}
  }
 ]
}
